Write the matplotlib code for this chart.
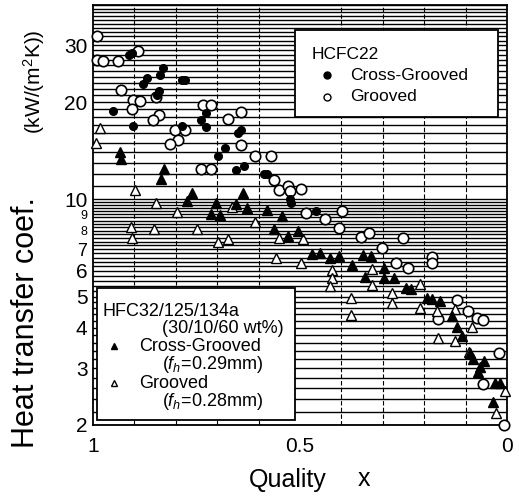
import numpy as np
import matplotlib
matplotlib.use('Agg')
import matplotlib.pyplot as plt
import matplotlib.ticker as mticker
from matplotlib.patches import Rectangle

plt.rcParams['font.family'] = ['Liberation Sans', 'DejaVu Sans']
plt.rcParams['mathtext.fontset'] = 'custom'
plt.rcParams['mathtext.rm'] = 'Liberation Sans'
plt.rcParams['mathtext.it'] = 'Liberation Sans:italic'

# (quality x, heat transfer coef. kW/(m2K))
# HCFC22, cross-grooved tube (filled circles)
r22_cross = [(0.913, 28.1), (0.905, 28.5), (0.830, 25.5), (0.837, 24.2), (0.869, 23.7),
             (0.879, 22.7), (0.784, 23.4), (0.777, 23.4), (0.840, 21.6), (0.845, 21.0),
             (0.951, 18.8), (0.903, 16.9), (0.726, 18.5), (0.740, 17.6), (0.728, 16.8),
             (0.786, 16.9), (0.643, 16.4), (0.650, 16.0), (0.682, 14.45), (0.699, 13.66),
             (0.636, 12.7), (0.655, 12.37), (0.587, 12.0), (0.580, 11.94), (0.524, 10.0),
             (0.522, 9.72), (0.461, 9.19)]

# HCFC22, grooved tube (open circles)
r22_groove = [(0.990, 32.0), (0.990, 27.0), (0.976, 26.8), (0.939, 26.8), (0.891, 28.9),
              (0.932, 21.8), (0.903, 20.3), (0.886, 20.2), (0.905, 19.0), (0.847, 20.7),
              (0.840, 18.3), (0.854, 17.6), (0.801, 16.4), (0.777, 16.4), (0.794, 15.3),
              (0.813, 14.8), (0.735, 19.6), (0.716, 19.6), (0.675, 17.8), (0.643, 18.7),
              (0.643, 14.7), (0.609, 13.6), (0.570, 13.6), (0.738, 12.4), (0.714, 12.4),
              (0.563, 11.5), (0.551, 10.7), (0.529, 11.0), (0.524, 10.6), (0.498, 10.8),
              (0.485, 9.06), (0.439, 8.68), (0.398, 9.19), (0.405, 8.14), (0.352, 7.64),
              (0.333, 7.86), (0.252, 7.59), (0.301, 7.07), (0.267, 6.36), (0.240, 6.13),
              (0.182, 6.63), (0.182, 6.36), (0.121, 4.89), (0.095, 4.52), (0.073, 4.30),
              (0.058, 4.24), (0.167, 4.27), (0.019, 3.34), (0.058, 2.68), (0.007, 2.0)]

# HFC32/125/134a, cross-grooved tube (filled triangles)
hfc_cross = [(0.934, 14.05), (0.932, 13.37), (0.828, 12.45), (0.835, 11.6), (0.774, 9.86),
             (0.762, 10.43), (0.704, 9.72), (0.714, 8.99), (0.694, 8.93), (0.655, 9.65),
             (0.638, 10.43), (0.629, 9.38), (0.580, 9.25), (0.544, 8.87), (0.563, 8.09),
             (0.529, 7.69), (0.505, 7.97), (0.471, 6.77), (0.451, 6.82), (0.427, 6.58),
             (0.405, 6.68), (0.374, 6.26), (0.347, 6.72), (0.328, 6.68), (0.342, 5.75),
             (0.296, 6.13), (0.296, 5.71), (0.272, 5.71), (0.243, 5.32), (0.231, 5.28),
             (0.194, 4.96), (0.180, 4.92), (0.163, 4.85), (0.133, 4.34), (0.121, 4.01),
             (0.109, 3.76), (0.090, 3.34), (0.083, 3.20), (0.066, 3.02), (0.056, 3.15),
             (0.070, 2.91), (0.029, 2.70), (0.017, 2.70), (0.034, 2.36)]

# HFC32/125/134a, grooved tube (open triangles)
hfc_groove = [(0.983, 16.65), (0.993, 15.0), (0.898, 10.66), (0.847, 9.72), (0.796, 9.12),
              (0.908, 8.20), (0.852, 8.09), (0.905, 7.59), (0.748, 8.09), (0.665, 9.45),
              (0.609, 8.50), (0.697, 7.37), (0.675, 7.53), (0.551, 7.59), (0.493, 7.53),
              (0.558, 6.58), (0.498, 6.36), (0.422, 6.05), (0.422, 5.71), (0.427, 5.40),
              (0.376, 4.96), (0.376, 4.37), (0.325, 6.09), (0.325, 5.44), (0.277, 5.14),
              (0.277, 4.79), (0.211, 5.47), (0.211, 4.62), (0.170, 4.52), (0.126, 4.59),
              (0.085, 4.01), (0.167, 3.73), (0.126, 3.63), (0.092, 3.36), (0.005, 2.55),
              (0.027, 2.18)]

y_ticks = [2, 3, 4, 5, 6, 7, 8, 9, 10, 20, 30]
y_labels = ['2', '3', '4', '5', '6', '7', '8', '9', '10', '20', '30']
x_ticks = [1, 0.5, 0]
x_labels = ['1', '0.5', '0']

fig = plt.figure(figsize=(5.19, 5.0), dpi=100)
ax = fig.add_axes([0.1792, 0.15, 0.7977, 0.84])

ax.set_yscale('log')
ax.set_xlim(1, 0)
ax.set_ylim(2, 40)

# dense horizontal rules, vertical dashed rules every 0.1
minor_levels = list(np.arange(2.0, 10.0, 0.2)) + list(range(10, 41))
ax.yaxis.set_minor_locator(mticker.FixedLocator(minor_levels))
ax.yaxis.set_minor_formatter(mticker.NullFormatter())
ax.set_yticks(y_ticks, y_labels)
ax.set_xticks(x_ticks, x_labels)
ax.xaxis.set_minor_locator(mticker.MultipleLocator(0.1))
ax.grid(True, which='both', axis='y', color='black', linewidth=1.0, zorder=1)
ax.grid(True, which='minor', axis='x', color='black', linewidth=0.8,
        linestyle=(0, (4, 2)), zorder=1)
ax.set_axisbelow(True)
ax.tick_params(axis='both', which='both', length=0)
ax.tick_params(axis='y', pad=4, labelsize=15)
ax.tick_params(axis='x', pad=9, labelsize=15)
for lbl in ax.get_yticklabels():
    if lbl.get_text() in ('8', '9'):
        lbl.set_fontsize(9)
    elif lbl.get_text() == '7':
        lbl.set_fontsize(13)
for sp in ax.spines.values():
    sp.set_linewidth(1.3)

x, h = np.array(r22_groove).T
ax.plot(x, h, 'o', ms=7.5, mfc='white', mec='black', mew=1.2, zorder=4, clip_on=False)
x, h = np.array(r22_cross).T
ax.plot(x, h, 'o', ms=5.5, mfc='black', mec='black', zorder=5, clip_on=False)
x, h = np.array(hfc_groove).T
ax.plot(x, h, '^', ms=7, mfc='white', mec='black', mew=1.0, zorder=4, clip_on=False)
x, h = np.array(hfc_cross).T
ax.plot(x, h, '^', ms=7, mfc='black', mec='black', zorder=5, clip_on=False)

# legend boxes
ax.add_patch(Rectangle((0.489, 0.733), 0.489, 0.207, transform=ax.transAxes,
                       facecolor='white', edgecolor='black', linewidth=1.3, zorder=3))
ax.text(0.528, 0.881, 'HCFC22', transform=ax.transAxes, fontsize=12.5, va='center', zorder=6)
ax.plot([0.564], [0.833], 'o', ms=5, color='black', transform=ax.transAxes, zorder=6)
ax.text(0.620, 0.833, 'Cross-Grooved', transform=ax.transAxes, fontsize=12.5, va='center', zorder=6)
ax.plot([0.564], [0.781], 'o', ms=5, mfc='white', mec='black', transform=ax.transAxes, zorder=6)
ax.text(0.620, 0.781, 'Grooved', transform=ax.transAxes, fontsize=12.5, va='center', zorder=6)

ax.add_patch(Rectangle((0.010, 0.012), 0.477, 0.314, transform=ax.transAxes,
                       facecolor='white', edgecolor='black', linewidth=1.3, zorder=3))
ax.text(0.022, 0.271, 'HFC32/125/134a', transform=ax.transAxes, fontsize=13, va='center', zorder=6)
ax.text(0.167, 0.229, '(30/10/60 wt%)', transform=ax.transAxes, fontsize=13, va='center', zorder=6)
ax.plot([0.051], [0.188], '^', ms=5, color='black', transform=ax.transAxes, zorder=6)
ax.text(0.111, 0.188, 'Cross-Grooved', transform=ax.transAxes, fontsize=13, va='center', zorder=6)
ax.text(0.167, 0.143, '($f_h$=0.29mm)', transform=ax.transAxes, fontsize=13, va='center', zorder=6)
ax.plot([0.051], [0.100], '^', ms=5, mfc='white', mec='black', transform=ax.transAxes, zorder=6)
ax.text(0.111, 0.100, 'Grooved', transform=ax.transAxes, fontsize=13, va='center', zorder=6)
ax.text(0.167, 0.055, '($f_h$=0.28mm)', transform=ax.transAxes, fontsize=13, va='center', zorder=6)

# axis titles
fig.text(0.050, 0.355, 'Heat transfer coef.', rotation=90, fontsize=22, ha='center', va='center')
fig.text(0.066, 0.836, '(kW/(m$^2$K))', rotation=90, fontsize=15, ha='center', va='center')
fig.text(0.555, 0.027, 'Quality', fontsize=18, ha='center', va='baseline')
fig.text(0.702, 0.027, 'x', fontsize=18, ha='center', va='baseline')

fig.savefig('out.png', dpi=100)
